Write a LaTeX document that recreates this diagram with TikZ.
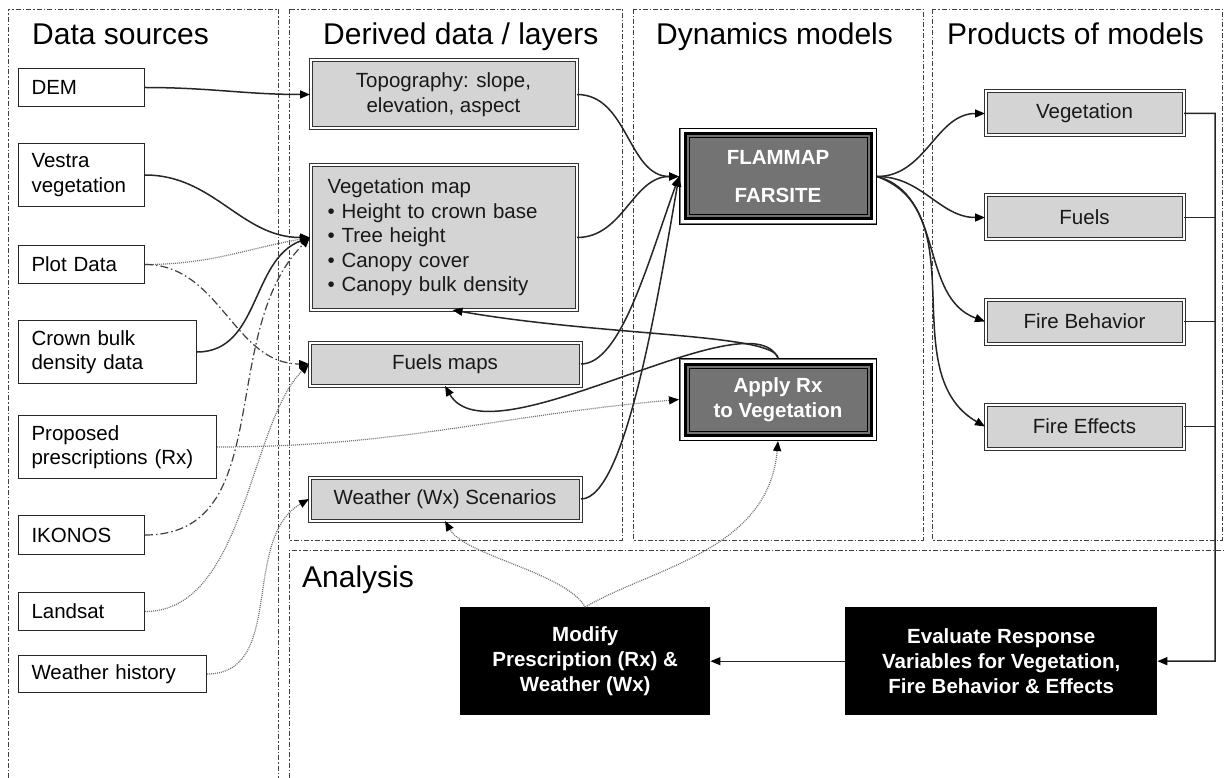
\documentclass[tikz,border=0pt]{standalone}
\usepackage{fontspec}
\setmainfont{Liberation Sans}
\usetikzlibrary{arrows.meta}
\newcommand{\boxtextfont}{\fontsize{20.5pt}{24.6pt}\selectfont}
\newcommand{\panelheadfont}{\fontsize{30pt}{36pt}\selectfont}
\tikzset{
    panel/.style = {draw=black!75, line width=0.9pt, dash pattern=on 5pt off 2pt on 1.5pt off 2pt},
    panel-title/.style = {font=\panelheadfont, anchor=base west, inner sep=0pt},
    source-box/.style = {draw=black!85, line width=1pt, fill=white, anchor=north west, inner xsep=13pt, inner ysep=3pt, align=left, font=\boxtextfont},
    layer-box/.style = {draw=black!80, line width=1pt, double=white, double distance=2pt, fill=black!17, text=black!90, anchor=north west, align=center, inner sep=3pt, font=\boxtextfont},
    model-box/.style = {draw=black, line width=1pt, fill=black!55, text=white, anchor=north west, align=center, font=\boxtextfont\bfseries,
        path picture={
            \draw[white, line width=3pt] ([shift={(2.5pt,-2.5pt)}]path picture bounding box.north west) rectangle ([shift={(-2.5pt,2.5pt)}]path picture bounding box.south east);
            \draw[black, line width=3pt] ([shift={(5.5pt,-5.5pt)}]path picture bounding box.north west) rectangle ([shift={(-5.5pt,5.5pt)}]path picture bounding box.south east);
            \draw[black, line width=1pt] ([shift={(9.5pt,-9.5pt)}]path picture bounding box.north west) rectangle ([shift={(-9.5pt,9.5pt)}]path picture bounding box.south east);
        }},
    analysis-box/.style = {fill=black, text=white, anchor=north west, align=center, font=\boxtextfont\bfseries},
    solid-link/.style = {draw=black!85, line width=1.5pt},
    dot-link/.style = {draw=black!55, line width=1.2pt, dash pattern=on 1pt off 1pt},
    dashdot-link/.style = {draw=black!75, line width=1.2pt, dash pattern=on 8pt off 3pt on 1.5pt off 3pt},
    with-tip/.style = {-{Triangle[length=10pt, width=8pt, color=black]}},
}

\begin{document}
\begin{tikzpicture}[x=1pt, y=-1pt]
\path[use as bounding box, fill=white] (0,0) rectangle (1224,778);

% panels
\draw[panel] (8,778) |- (278,9) -- (278,778);
\draw[panel] (289,9) rectangle (622,540);
\draw[panel] (633,9) rectangle (923,540);
\draw[panel] (932,9) rectangle (1222,540);
\draw[panel] (289,778) |- (1224,550);

\node[panel-title] (t-sources) at (32,45) {Data sources};
\node[panel-title] (t-derived) at (323,45) {Derived data / layers};
\node[panel-title] (t-dynamics) at (656,45) {Dynamics models};
\node[panel-title] (t-products) at (947,45) {Products of models};
\node[panel-title] (t-analysis) at (302,587) {Analysis};

% data sources
\node[source-box, text width=100pt, minimum height=38pt] (dem) at (18,68) {DEM};
\node[source-box, text width=100pt, minimum height=63pt] (vestra) at (18,143) {Vestra\\vegetation};
\node[source-box, text width=100pt, minimum height=38pt] (plot) at (18,245) {Plot Data};
\node[source-box, text width=152pt, minimum height=63pt] (crown) at (18,320) {Crown bulk\\density data};
\node[source-box, text width=172pt, minimum height=63pt] (rx) at (18,415) {Proposed\\prescriptions (Rx)};
\node[source-box, text width=100pt, minimum height=39pt] (ikonos) at (18,515) {IKONOS};
\node[source-box, text width=100pt, minimum height=38pt] (landsat) at (18,592) {Landsat};
\node[source-box, text width=162pt, minimum height=37pt] (wxhist) at (18,655) {Weather history};

% derived layers
\node[layer-box, minimum width=266pt, minimum height=68pt] (topo) at (310,60) {Topography: slope,\\elevation, aspect};
\node[layer-box, align=left, text width=232pt, inner xsep=17pt, minimum height=144pt] (vegmap) at (310,165)
    {Vegetation map\\• Height to crown base\\• Tree height\\• Canopy cover\\• Canopy bulk density};
\node[layer-box, minimum width=271pt, minimum height=43pt] (fuelmap) at (309,342) {Fuels maps};
\node[layer-box, minimum width=271pt, minimum height=43pt] (wxscen) at (309,477) {Weather (Wx) Scenarios};

% dynamics models
\node[model-box, minimum width=197pt, minimum height=96pt] (flam) at (679,128) {FLAMMAP\\[13pt]FARSITE};
\node[model-box, minimum width=197pt, minimum height=82pt] (applyrx) at (679,358) {Apply Rx\\to Vegetation};

% products
\node[layer-box, minimum width=198pt, minimum height=44pt] (pveg) at (985,91) {Vegetation};
\node[layer-box, minimum width=198pt, minimum height=44pt] (pfuel) at (985,195) {Fuels};
\node[layer-box, minimum width=198pt, minimum height=44pt] (pbehav) at (985,299) {Fire Behavior};
\node[layer-box, minimum width=198pt, minimum height=44pt] (peffect) at (985,404) {Fire Effects};

% analysis
\node[analysis-box, minimum width=250pt, minimum height=108pt] (modify) at (460,607) {Modify\\Prescription (Rx) \&\\Weather (Wx)};
\node[analysis-box, minimum width=312pt, minimum height=108pt] (evaluate) at (845,607) {Evaluate Response\\Variables for Vegetation,\\Fire Behavior \& Effects};

% sources -> layers
\draw[solid-link, with-tip] (dem.east) to[out=0, in=180] (topo.west);
\draw[solid-link, with-tip] (vestra.east) to[out=0, in=180] (vegmap.west);
\draw[dot-link, with-tip] (plot.east) to[out=0, in=190] (vegmap.west);
\draw[solid-link, with-tip] (crown.east) to[out=0, in=200] (vegmap.west);
\draw[dashdot-link, with-tip] (ikonos.east) to[out=0, in=225] (vegmap.west);
\draw[dashdot-link, with-tip] (plot.east) to[out=0, in=180] (fuelmap.west);
\draw[dot-link, with-tip] (landsat.east) to[out=0, in=225, out distance=100pt, in distance=85pt] (fuelmap.west);
\draw[dot-link, with-tip] (wxhist.east) to[out=0, in=210] (wxscen.west);
\draw[dot-link, with-tip] (rx.east) to[out=0, in=185] (applyrx.west);

% layers -> models
\draw[solid-link, with-tip] (topo.east) to[out=0, in=180] (flam.west);
\draw[solid-link, with-tip] (vegmap.east) to[out=0, in=180] (flam.west);
\draw[solid-link, with-tip] (fuelmap.east) to[out=0, in=250, out distance=40pt, in distance=90pt] (flam.west);
\draw[solid-link, with-tip] (wxscen.east) to[out=0, in=260, out distance=45pt, in distance=120pt] (flam.west);

% Rx back to layers
\draw[solid-link, with-tip] (applyrx.north) to[out=100, in=-10, out distance=25pt, in distance=150pt] ([xshift=9pt]vegmap.south);
\draw[solid-link, with-tip] (applyrx.north) to[out=115, in=-60, out distance=70pt, in distance=90pt] (fuelmap.south);

% models -> products
\draw[solid-link, with-tip] (flam.east) to[out=0, in=180] (pveg.west);
\draw[solid-link, with-tip] (flam.east) to[out=0, in=180] (pfuel.west);
\draw[solid-link, with-tip] (flam.east) to[out=-15, in=160] (pbehav.west);
\draw[solid-link, with-tip] (flam.east) to[out=-20, in=150] (peffect.west);

% products -> analysis
\coordinate (bus) at (1215,661);
\draw[solid-link] (pfuel.east) -- (pfuel.east -| bus);
\draw[solid-link] (pbehav.east) -- (pbehav.east -| bus);
\draw[solid-link] (peffect.east) -- (peffect.east -| bus);
\draw[solid-link, with-tip] (pveg.east) -- (pveg.east -| bus) -- (bus) -- (evaluate.east);
\draw[solid-link, line width=1.1pt, with-tip] (evaluate.west) -- (modify.east);

% analysis -> scenarios
\draw[dot-link, with-tip] (modify.north) to[out=120, in=-60, out distance=40pt, in distance=40pt] (wxscen.south);
\draw[dot-link, with-tip] (modify.north) to[out=30, in=-95, out distance=80pt, in distance=110pt] (applyrx.south);
\end{tikzpicture}
\end{document}
